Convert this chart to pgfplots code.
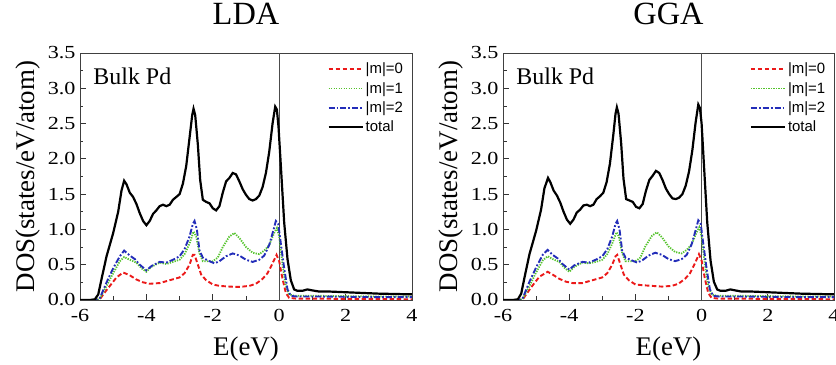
\documentclass[border=0pt]{standalone}
\usepackage{pgfplots}
\pgfplotsset{compat=1.18}
\usepackage{fontspec}
\setmainfont{Liberation Serif}
\newfontfamily\tickfont{Liberation Serif}[FakeStretch=1.2]
\newfontfamily\legfont{Liberation Sans}
\definecolor{cred}{RGB}{235,25,25}
\definecolor{cgreen}{RGB}{85,195,45}
\definecolor{cblue}{RGB}{35,45,185}
\pgfplotsset{
  dosaxis/.style={
    scale only axis, width=332bp, height=247bp,
    xmin=-6, xmax=4, ymin=0, ymax=3.5,
    xtick={-6,-4,-2,0,2,4}, xticklabels={-6,-4,-2,0,2,4},
    ytick={0,0.5,1,1.5,2,2.5,3,3.5},
    yticklabels={0.0,0.5,1.0,1.5,2.0,2.5,3.0,3.5},
    minor xtick={-5,-3,-1,1,3},
    minor ytick={0.25,0.75,1.25,1.75,2.25,2.75,3.25},
    tick align=inside, xtick pos=bottom, ytick pos=left,
    major tick length=6bp, minor tick length=3.5bp,
    every tick/.style={line width=0.8bp, black!80},
    axis line style={line width=0.9bp, black!75},
    tick label style={font=\tickfont\fontsize{18.5}{20}\selectfont},
    xticklabel style={yshift=-6bp},
    yticklabel style={xshift=-1bp},
    xlabel={E(eV)}, ylabel={DOS(states/eV/atom)},
    label style={font=\fontsize{27}{30}\selectfont},
    xlabel style={at={(axis description cs:0.5,0)}, anchor=base, yshift=-55bp},
    ylabel style={at={(axis description cs:0,0.5)}, anchor=base, yshift=46bp},
    title style={font=\fontsize{32.5}{34}\selectfont, at={(0.5,1)}, anchor=base, yshift=23bp},
    legend style={draw=none, fill=none, at={(rel axis cs:0.745,0.968)}, anchor=north west,
      font=\legfont\fontsize{15}{17}\selectfont, inner sep=0pt, row sep=3bp,
      nodes={inner sep=2bp}},
    legend cell align=left,
    legend image code/.code={\draw[##1] (0bp,0bp) -- (34bp,0bp);},
  },
  m0/.style={cred, line width=1.9bp, dash pattern=on 4.5bp off 2.5bp},
  m1/.style={cgreen, line width=1.8bp, dash pattern=on 1.3bp off 1.2bp},
  m2/.style={cblue, line width=1.9bp, dash pattern=on 6bp off 2bp on 1.8bp off 2bp},
  tot/.style={black, line width=2.2bp},
}
\begin{document}
\begin{tikzpicture}
\useasboundingbox (0,0) rectangle (836bp,365bp);
%%%%%%%%%%%%%%%%%%%% LDA
\begin{axis}[dosaxis, at={(80bp,65bp)}, anchor=south west, title={LDA}]
\addplot[forget plot, black!70, line width=0.8bp] coordinates {(0,0) (0,3.5)};
\addplot[m0] coordinates {
(-6,0) (-5.5,0) (-5.4,0.01) (-5.3,0.08) (-5.1,0.2) (-4.9,0.32) (-4.7,0.39) (-4.5,0.35)
(-4.3,0.29) (-4.1,0.25) (-3.9,0.23) (-3.6,0.24) (-3.3,0.28) (-3.0,0.32) (-2.85,0.38)
(-2.7,0.50) (-2.6,0.64) (-2.55,0.64) (-2.45,0.50) (-2.35,0.36) (-2.2,0.28) (-2.0,0.22)
(-1.8,0.20) (-1.5,0.19) (-1.2,0.185) (-0.9,0.20) (-0.7,0.23) (-0.5,0.30) (-0.35,0.38)
(-0.2,0.52) (-0.08,0.64) (0.0,0.55) (0.1,0.30) (0.2,0.10) (0.3,0.03) (0.5,0.02)
(1.0,0.02) (2.0,0.015) (3.0,0.015) (4.0,0.01)};
\addlegendentry{|m|=0}
\addplot[m1] coordinates {
(-6,0) (-5.5,0) (-5.4,0.02) (-5.2,0.2) (-5.0,0.38) (-4.8,0.55) (-4.67,0.61) (-4.5,0.57)
(-4.3,0.53) (-4.15,0.45) (-4.0,0.40) (-3.85,0.47) (-3.6,0.53) (-3.4,0.51) (-3.2,0.54)
(-3.0,0.57) (-2.85,0.65) (-2.7,0.80) (-2.58,0.97) (-2.5,0.90) (-2.4,0.66) (-2.3,0.55)
(-2.15,0.55) (-2.0,0.55) (-1.85,0.60) (-1.7,0.75) (-1.5,0.90) (-1.35,0.95) (-1.2,0.88)
(-1.0,0.75) (-0.8,0.67) (-0.6,0.65) (-0.45,0.70) (-0.3,0.78) (-0.15,0.95) (-0.07,1.02)
(0.0,0.90) (0.1,0.50) (0.2,0.20) (0.3,0.08) (0.45,0.06) (1.0,0.06) (2.0,0.055) (3.0,0.05) (4.0,0.05)};
\addlegendentry{|m|=1}
\addplot[m2] coordinates {
(-6,0) (-5.5,0) (-5.4,0.03) (-5.2,0.25) (-5.0,0.45) (-4.8,0.62) (-4.67,0.70) (-4.5,0.63)
(-4.35,0.58) (-4.2,0.50) (-4.0,0.42) (-3.85,0.48) (-3.6,0.54) (-3.4,0.53) (-3.2,0.57)
(-3.0,0.62) (-2.85,0.72) (-2.7,0.90) (-2.6,1.08) (-2.55,1.12) (-2.48,1.00) (-2.4,0.70)
(-2.3,0.60) (-2.15,0.56) (-1.95,0.52) (-1.8,0.55) (-1.6,0.62) (-1.4,0.66) (-1.2,0.63)
(-1.0,0.57) (-0.8,0.54) (-0.6,0.57) (-0.45,0.63) (-0.3,0.78) (-0.18,0.98) (-0.1,1.12)
(-0.03,1.08) (0.05,0.80) (0.15,0.45) (0.25,0.15) (0.35,0.06) (0.5,0.05) (1.0,0.05)
(2.0,0.045) (3.0,0.04) (4.0,0.04)};
\addlegendentry{|m|=2}
\addplot[tot] coordinates {
(-6.0,0.0) (-5.7,0.0) (-5.55,0.01) (-5.45,0.08) (-5.35,0.3) (-5.2,0.62) (-5.0,0.95)
(-4.85,1.25) (-4.75,1.55) (-4.67,1.69) (-4.6,1.64) (-4.5,1.52) (-4.4,1.46) (-4.3,1.36)
(-4.2,1.23) (-4.1,1.12) (-4.0,1.06) (-3.9,1.12) (-3.8,1.22) (-3.7,1.27) (-3.6,1.33)
(-3.5,1.35) (-3.4,1.33) (-3.3,1.35) (-3.2,1.42) (-3.1,1.46) (-3.0,1.50) (-2.9,1.65)
(-2.8,1.90) (-2.7,2.30) (-2.62,2.62) (-2.58,2.71) (-2.53,2.62) (-2.45,2.20) (-2.38,1.70)
(-2.3,1.42) (-2.2,1.39) (-2.1,1.37) (-2.0,1.30) (-1.9,1.27) (-1.8,1.33) (-1.7,1.52)
(-1.6,1.68) (-1.5,1.73) (-1.4,1.80) (-1.3,1.78) (-1.2,1.68) (-1.1,1.57) (-1.0,1.49)
(-0.9,1.43) (-0.8,1.41) (-0.7,1.43) (-0.6,1.48) (-0.5,1.60) (-0.4,1.80) (-0.3,2.10)
(-0.2,2.50) (-0.12,2.74) (-0.07,2.70) (-0.02,2.45) (0.05,1.90) (0.15,1.10) (0.25,0.58)
(0.35,0.28) (0.45,0.15) (0.55,0.13) (0.7,0.13) (0.85,0.15) (0.95,0.14) (1.2,0.12)
(1.5,0.12) (2.0,0.11) (2.5,0.10) (3.0,0.09) (3.5,0.085) (4.0,0.08)};
\addlegendentry{total}
\node[anchor=base west, font=\fontsize{24}{26}\selectfont] at (rel axis cs:0.03,0.873) {Bulk Pd};
\end{axis}
%%%%%%%%%%%%%%%%%%%% GGA
\begin{axis}[dosaxis, at={(503bp,65bp)}, anchor=south west, width=331bp, title={GGA}]
\addplot[forget plot, black!70, line width=0.8bp] coordinates {(0,0) (0,3.5)};
\addplot[m0] coordinates {
(-6,0) (-5.5,0) (-5.4,0.01) (-5.3,0.08) (-5.1,0.21) (-4.9,0.33) (-4.65,0.40) (-4.5,0.36)
(-4.3,0.30) (-4.1,0.26) (-3.9,0.24) (-3.6,0.24) (-3.3,0.28) (-3.0,0.32) (-2.85,0.38)
(-2.7,0.50) (-2.6,0.62) (-2.55,0.64) (-2.45,0.50) (-2.35,0.36) (-2.2,0.28) (-2.0,0.22)
(-1.8,0.21) (-1.5,0.20) (-1.2,0.19) (-0.9,0.20) (-0.7,0.23) (-0.5,0.30) (-0.35,0.38)
(-0.2,0.52) (-0.08,0.65) (0.0,0.56) (0.1,0.30) (0.2,0.10) (0.3,0.03) (0.5,0.02)
(1.0,0.02) (2.0,0.015) (3.0,0.015) (4.0,0.01)};
\addlegendentry{|m|=0}
\addplot[m1] coordinates {
(-6,0) (-5.5,0) (-5.4,0.02) (-5.2,0.2) (-5.0,0.39) (-4.8,0.56) (-4.65,0.62) (-4.5,0.58)
(-4.3,0.54) (-4.15,0.46) (-4.0,0.40) (-3.85,0.47) (-3.6,0.53) (-3.4,0.52) (-3.2,0.54)
(-3.0,0.57) (-2.85,0.65) (-2.7,0.80) (-2.57,0.96) (-2.5,0.90) (-2.4,0.66) (-2.3,0.55)
(-2.15,0.55) (-2.0,0.55) (-1.85,0.60) (-1.7,0.76) (-1.5,0.91) (-1.35,0.96) (-1.2,0.89)
(-1.0,0.76) (-0.8,0.68) (-0.6,0.66) (-0.45,0.71) (-0.3,0.79) (-0.15,0.96) (-0.07,1.03)
(0.0,0.90) (0.1,0.50) (0.2,0.20) (0.3,0.08) (0.45,0.06) (1.0,0.06) (2.0,0.055) (3.0,0.05) (4.0,0.05)};
\addlegendentry{|m|=1}
\addplot[m2] coordinates {
(-6,0) (-5.5,0) (-5.4,0.03) (-5.2,0.26) (-5.0,0.46) (-4.8,0.64) (-4.65,0.71) (-4.5,0.64)
(-4.35,0.59) (-4.2,0.51) (-4.0,0.43) (-3.85,0.49) (-3.6,0.54) (-3.4,0.53) (-3.2,0.57)
(-3.0,0.62) (-2.85,0.72) (-2.7,0.90) (-2.6,1.08) (-2.55,1.12) (-2.48,1.00) (-2.4,0.70)
(-2.3,0.60) (-2.15,0.57) (-1.95,0.53) (-1.8,0.56) (-1.6,0.63) (-1.4,0.67) (-1.2,0.64)
(-1.0,0.58) (-0.8,0.55) (-0.6,0.58) (-0.45,0.64) (-0.3,0.79) (-0.18,0.99) (-0.1,1.13)
(-0.03,1.09) (0.05,0.80) (0.15,0.45) (0.25,0.15) (0.35,0.06) (0.5,0.05) (1.0,0.05)
(2.0,0.045) (3.0,0.04) (4.0,0.04)};
\addlegendentry{|m|=2}
\addplot[tot] coordinates {
(-6.0,0.0) (-5.7,0.0) (-5.55,0.01) (-5.45,0.09) (-5.35,0.32) (-5.2,0.65) (-5.0,0.98)
(-4.85,1.28) (-4.75,1.58) (-4.64,1.73) (-4.57,1.67) (-4.47,1.55) (-4.37,1.48) (-4.27,1.38)
(-4.17,1.25) (-4.07,1.14) (-3.97,1.08) (-3.87,1.14) (-3.77,1.24) (-3.67,1.28) (-3.57,1.34)
(-3.47,1.35) (-3.37,1.33) (-3.27,1.35) (-3.17,1.43) (-3.07,1.47) (-2.97,1.52) (-2.87,1.67)
(-2.77,1.93) (-2.67,2.33) (-2.6,2.64) (-2.56,2.73) (-2.51,2.64) (-2.43,2.22) (-2.36,1.72)
(-2.28,1.43) (-2.18,1.41) (-2.08,1.39) (-1.98,1.32) (-1.88,1.30) (-1.78,1.36) (-1.68,1.55)
(-1.58,1.70) (-1.48,1.76) (-1.38,1.83) (-1.28,1.80) (-1.18,1.70) (-1.08,1.58) (-0.98,1.50)
(-0.88,1.44) (-0.78,1.43) (-0.68,1.45) (-0.58,1.50) (-0.48,1.62) (-0.38,1.82) (-0.28,2.12)
(-0.18,2.52) (-0.1,2.77) (-0.05,2.72) (0.0,2.50) (0.07,1.92) (0.17,1.10) (0.27,0.56)
(0.37,0.26) (0.47,0.15) (0.57,0.13) (0.72,0.13) (0.87,0.15) (0.97,0.14) (1.2,0.12)
(1.5,0.12) (2.0,0.11) (2.5,0.10) (3.0,0.09) (3.5,0.085) (4.0,0.08)};
\addlegendentry{total}
\node[anchor=base west, font=\fontsize{24}{26}\selectfont] at (rel axis cs:0.03,0.873) {Bulk Pd};
\end{axis}
\end{tikzpicture}
\end{document}
